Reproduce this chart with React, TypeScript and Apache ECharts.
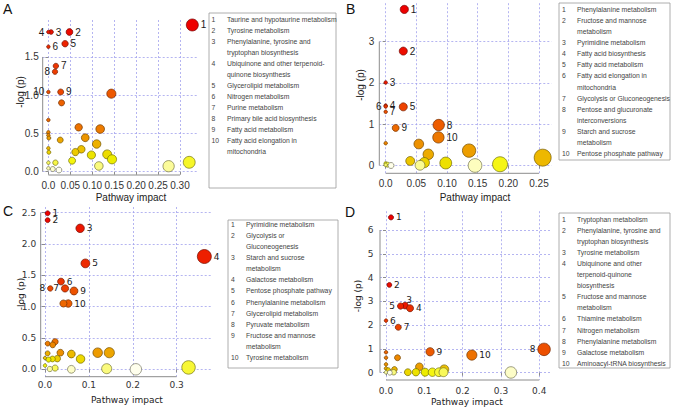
import React, { useEffect, useRef } from "react";
import * as echarts from "echarts";

// ---------------- Panel A data ----------------
const aImpact = [0.328, 0.048, 0.006, 0.0, 0.038, 0.0, 0.017, 0.015, 0.028, 0.0, 0.1435, 0.03, 0.0, 0.069, 0.118, 0.084, 0.0, 0.0, 0.001, 0.027, 0.11, 0.075, 0.0615, 0.098, 0.134, 0.145, 0.054, 0.0, 0.001, 0.016, 0.0, 0.115, 0.274, 0.321, 0.0, 0.01, 0.024];
const aLogP = [1.918, 1.826, 1.826, 1.826, 1.673, 1.634, 1.382, 1.307, 1.042, 1.042, 1.02, 0.9, 0.676, 0.58, 0.558, 0.444, 0.515, 0.475, 0.44, 0.414, 0.362, 0.293, 0.257, 0.218, 0.227, 0.162, 0.144, 0.306, 0.254, 0.118, 0.118, 0.075, 0.072, 0.123, 0.044, 0.035, 0.022];
const aPathways = ["Taurine and hypotaurine metabolism", "Tyrosine metabolism", "Phenylalanine, tyrosine and\ntryptophan biosynthesis", "Ubiquinone and other terpenoid-\nquinone biosynthesis", "Glycerolipid metabolism", "Nitrogen metabolism", "Purine metabolism", "Primary bile acid biosynthesis", "Fatty acid metabolism", "Fatty acid elongation in\nmitochondria"];
const aXTicks = [0, 0.05, 0.1, 0.15, 0.2, 0.25, 0.3];
const aXTickLabels = ["0.0", "0.05", "0.10", "0.15", "0.20", "0.25", "0.30"];
const aYTicks = [0, 0.5, 1, 1.5];
const aYTickLabels = ["0.0", "0.5", "1.0", "1.5"];

// ---------------- Panel B data ----------------
const bImpact = [0.0304, 0.0287, 0.0, 0.0, 0.0287, 0.0, 0.0, 0.0865, 0.0163, 0.086, 0.0, 0.054, 0.136, 0.0695, 0.256, 0.04, 0.063, 0.098, 0.0, 0.1865, 0.003, 0.0, 0.056, 0.1457, 0.0087];
const bLogP = [3.78, 2.77, 2.01, 1.45, 1.42, 1.43, 1.3, 0.98, 0.91, 0.68, 0.54, 0.52, 0.36, 0.27, 0.19, 0.11, 0.07, 0.06, 0.05, 0.03, 0.02, 0.015, 0.005, 0.0, 0.0];
const bPathways = ["Phenylalanine metabolism", "Fructose and mannose\nmetabolism", "Pyrimidine metabolism", "Fatty acid biosynthesis", "Fatty acid metabolism", "Fatty acid elongation in\nmitochondria", "Glycolysis or Gluconeogenesis", "Pentose and glucuronate\ninterconversions", "Starch and sucrose\nmetabolism", "Pentose phosphate pathway"];
const bXTicks = [0, 0.05, 0.1, 0.15, 0.2, 0.25];
const bXTickLabels = ["0.0", "0.05", "0.10", "0.15", "0.20", "0.25"];
const bYTicks = [0, 1, 2, 3];
const bYTickLabels = ["0", "1", "2", "3"];

// ---------------- Panel C data ----------------
const cImpact = [0.006, 0.006, 0.08, 0.363, 0.092, 0.0364, 0.0456, 0.012, 0.066, 0.053, 0.042, 0.023, 0.006, 0.0175, 0.035, 0.12, 0.1465, 0.006, 0.06, 0.0, 0.081, 0.028, 0.017, 0.008, 0.0, 0.327, 0.023, 0.1405, 0.011, 0.06, 0.207];
const cLogP = [2.49, 2.38, 2.25, 1.8, 1.69, 1.4, 1.29, 1.29, 1.25, 1.05, 1.05, 0.44, 0.41, 0.39, 0.265, 0.265, 0.265, 0.255, 0.244, 0.18, 0.165, 0.17, 0.165, 0.155, 0.06, 0.03, 0.02, 0.01, 0.005, 0.0, 0.0];
const cPathways = ["Pyrimidine metabolism", "Glycolysis or\nGluconeogenesis", "Starch and sucrose\nmetabolism", "Galactose metabolism", "Pentose phosphate pathway", "Phenylalanine metabolism", "Glycerolipid metabolism", "Pyruvate metabolism", "Fructose and mannose\nmetabolism", "Tyrosine metabolism"];
const cXTicks = [0, 0.1, 0.2, 0.3];
const cXTickLabels = ["0.0", "0.1", "0.2", "0.3"];
const cYTicks = [0, 0.5, 1, 1.5, 2, 2.5];
const cYTickLabels = ["0.0", "0.5", "1.0", "1.5", "2.0", "2.5"];

// ---------------- Panel D data ----------------
const dImpact = [0.013, 0.0087, 0.0496, 0.0627, 0.038, 0.0, 0.032, 0.4125, 0.115, 0.224, 0.0, 0.0, 0.03, 0.0, 0.087, 0.0, 0.022, 0.152, 0.006, 0.057, 0.078, 0.102, 0.121, 0.138, 0.15, 0.02, 0.0, 0.326, 0.01];
const dLogP = [6.53, 3.69, 2.82, 2.71, 2.8, 2.19, 1.91, 0.98, 0.88, 0.74, 0.86, 0.63, 0.63, 0.35, 0.25, 0.18, 0.14, 0.14, 0.11, 0.02, 0.02, 0.02, 0.02, 0.02, 0.02, 0.018, 0.015, 0.01, 0.0];
const dPathways = ["Tryptophan metabolism", "Phenylalanine, tyrosine and\ntryptophan biosynthesis", "Tyrosine metabolism", "Ubiquinone and other\nterpenoid-quinone\nbiosynthesis", "Fructose and mannose\nmetabolism", "Thiamine metabolism", "Nitrogen metabolism", "Phenylalanine metabolism", "Galactose metabolism", "Aminoacyl-tRNA biosynthesis"];
const dXTicks = [0, 0.1, 0.2, 0.3, 0.4];
const dXTickLabels = ["0.0", "0.1", "0.2", "0.3", "0.4"];
const dYTicks = [0, 1, 2, 3, 4, 5, 6];
const dYTickLabels = ["0", "1", "2", "3", "4", "5", "6"];

// ---------------- styling / layout ----------------
const FONT_AB = "'Liberation Sans', Arial, Helvetica, sans-serif";
const FONT_CD = "'DejaVu Sans', Verdana, sans-serif";
const AXIS_COLOR = "#8c8c8c";
const TICK_TEXT = "#333333";
const GRID_LINE = { color: "#a2a2ee", type: [2, 2] as number[], width: 0.8 };

const PANELS = [
  {
    impact: aImpact, logp: aLogP, pathways: aPathways,
    xTicks: aXTicks, xTickLabels: aXTickLabels, yTicks: aYTicks, yTickLabels: aYTickLabels,
    labelLeft: [4, 8, 10], labelTop: [] as number[],
    grid: { left: 42.7, top: 20, width: 155.3, height: 155 }, xRange: [-0.013, 0.341], yRange: [-0.043, 1.983],
    dMin: 3.5, dMax: 12, font: FONT_AB, fs: 10, xMargin: 5, yMargin: 4,
    letter: { t: "A", x: 3, y: 9 }, ylab: { x: 20.5, y: 92 }, xlab: { x: 131, y: 197 },
    box: { x: 209, y: 13, w: 127, h: 175 }, numX: 211.5, nameX: 227, row0: 19, rowH: 11.06,
  },
  {
    impact: bImpact, logp: bLogP, pathways: bPathways,
    xTicks: bXTicks, xTickLabels: bXTickLabels, yTicks: bYTicks, yTickLabels: bYTickLabels,
    labelLeft: [6], labelTop: [] as number[],
    grid: { left: 379.3, top: 3.2, width: 172.2, height: 170.1 }, xRange: [-0.0104, 0.2704], yRange: [-0.189, 3.93],
    dMin: 3.5, dMax: 17, font: FONT_AB, fs: 10, xMargin: 5, yMargin: 5,
    letter: { t: "B", x: 346, y: 9 }, ylab: { x: 360, y: 85 }, xlab: { x: 475, y: 197 },
    box: { x: 559, y: 3, w: 111, h: 157 }, numX: 562, nameX: 577, row0: 9.3, rowH: 11.1,
  },
  {
    impact: cImpact, logp: cLogP, pathways: cPathways,
    xTicks: cXTicks, xTickLabels: cXTickLabels, yTicks: cYTicks, yTickLabels: cYTickLabels,
    labelLeft: [7, 8], labelTop: [] as number[],
    grid: { left: 40.7, top: 207, width: 170, height: 169.7 }, xRange: [-0.0098, 0.3775], yRange: [-0.118, 2.59],
    dMin: 3.5, dMax: 14, font: FONT_CD, fs: 9, xMargin: 4, yMargin: 4.5,
    letter: { t: "C", x: 3, y: 211 }, ylab: { x: 20.5, y: 294 }, xlab: { x: 127, y: 400 },
    box: { x: 228, y: 220, w: 110, h: 148 }, numX: 231, nameX: 246, row0: 224.3, rowH: 11.1,
  },
  {
    impact: dImpact, logp: dLogP, pathways: dPathways,
    xTicks: dXTicks, xTickLabels: dXTickLabels, yTicks: dYTicks, yTickLabels: dYTickLabels,
    labelLeft: [5, 8], labelTop: [3],
    grid: { left: 380, top: 211.2, width: 170, height: 168.8 }, xRange: [-0.0157, 0.428], yRange: [-0.307, 6.79],
    dMin: 3.5, dMax: 12.5, font: FONT_CD, fs: 9, xMargin: 6.5, yMargin: 6.5,
    letter: { t: "D", x: 345, y: 212 }, ylab: { x: 358, y: 296 }, xlab: { x: 467, y: 402 },
    box: { x: 559, y: 213, w: 111, h: 155 }, numX: 562, nameX: 577, row0: 219, rowH: 11.1,
  },
];

// R-like heat.colors ranking (red -> yellow -> white)
function hsv(h: number, s: number, v: number) {
  const i = Math.floor(h * 6);
  const f = h * 6 - i;
  const p = v * (1 - s), q = v * (1 - f * s), t = v * (1 - (1 - f) * s);
  let r = v, g = t, b = p;
  switch (((i % 6) + 6) % 6) {
    case 0: r = v; g = t; b = p; break;
    case 1: r = q; g = v; b = p; break;
    case 2: r = p; g = v; b = t; break;
    case 3: r = p; g = q; b = v; break;
    case 4: r = t; g = p; b = v; break;
    default: r = v; g = p; b = q;
  }
  return `rgb(${Math.round(r * 255)},${Math.round(g * 255)},${Math.round(b * 255)})`;
}

function heatPalette(n: number) {
  const j = Math.floor(n / 4);
  const i = n - j;
  const out: { fill: string; border: string }[] = [];
  for (let k = 0; k < i; k++) {
    const h = i > 1 ? (k / (i - 1)) / 6 : 0;
    out.push({ fill: hsv(h, 1, 0.93), border: hsv(h, 1, 0.45) });
  }
  const s0 = 1 - 1 / (2 * j), s1 = 1 / (2 * j);
  for (let k = 0; k < j; k++) {
    const s = j > 1 ? s0 + (k * (s1 - s0)) / (j - 1) : s0;
    out.push({ fill: hsv(1 / 6, s, 0.96 + 0.04 * (k / Math.max(1, j - 1))), border: hsv(1 / 6, Math.min(1, s * 0.9 + 0.1), 0.45) });
  }
  return out;
}

function rankColors(ys: number[]) {
  const order = ys.map((_, i) => i).sort((a, b) => ys[b] - ys[a]);
  const pal = heatPalette(ys.length);
  const res: { fill: string; border: string }[] = [];
  order.forEach((idx, r) => { res[idx] = pal[r]; });
  return res;
}

function buildOption() {
  const grids: any[] = [], xAxes: any[] = [], yAxes: any[] = [], series: any[] = [], graphics: any[] = [];
  PANELS.forEach((p, gi) => {
    const fmt = (ticks: number[], labels: string[]) => (v: number) => {
      const k = ticks.findIndex((t) => Math.abs(t - v) < 1e-9);
      return k >= 0 ? labels[k] : "";
    };
    grids.push({ left: p.grid.left, top: p.grid.top, width: p.grid.width, height: p.grid.height, containLabel: false, outerBoundsMode: "none" });
    xAxes.push({
      type: "value", gridIndex: gi, min: p.xRange[0], max: p.xRange[1],
      axisLine: { show: false },
      axisTick: { show: true, customValues: p.xTicks, length: 3, lineStyle: { color: AXIS_COLOR, width: 1 } },
      axisLabel: { show: true, customValues: p.xTicks, formatter: fmt(p.xTicks, p.xTickLabels), margin: p.xMargin, fontSize: p.fs, fontFamily: p.font, color: TICK_TEXT, hideOverlap: false },
      splitLine: { show: true, lineStyle: GRID_LINE },
    });
    yAxes.push({
      type: "value", gridIndex: gi, min: p.yRange[0], max: p.yRange[1],
      axisLine: { show: false },
      axisTick: { show: true, customValues: p.yTicks, length: 3, lineStyle: { color: AXIS_COLOR, width: 1 } },
      axisLabel: { show: true, customValues: p.yTicks, formatter: fmt(p.yTicks, p.yTickLabels), margin: p.yMargin, fontSize: p.fs, fontFamily: p.font, color: TICK_TEXT, hideOverlap: false },
      splitLine: { show: true, lineStyle: GRID_LINE },
    });

    const xMax = Math.max(...p.impact);
    const cols = rankColors(p.logp);
    const data = p.impact.map((x, i) => {
      const tag = i < p.pathways.length ? i + 1 : 0;
      const item: any = {
        value: [x, p.logp[i], tag],
        itemStyle: { color: cols[i].fill, borderColor: cols[i].border, borderWidth: 0.7, opacity: 1 },
      };
      if (tag) {
        const left = p.labelLeft.includes(tag);
        const top = p.labelTop.includes(tag);
        item.label = {
          show: true, formatter: String(tag),
          position: top ? "top" : left ? "left" : "right",
          distance: top ? 0 : 2,
          offset: top ? [4, 3] : [0, 0],
          fontSize: p.fs, fontFamily: p.font, color: "#1a1a1a",
        };
      }
      return item;
    });
    series.push({
      type: "scatter", xAxisIndex: gi, yAxisIndex: gi, data, clip: false, z: 3,
      symbolSize: (v: number[]) => p.dMin + (p.dMax - p.dMin) * Math.sqrt(Math.max(v[0], 0) / xMax),
      itemStyle: { opacity: 1 },
      label: { show: false },
      emphasis: { disabled: true },
    });
    // R-style axis lines spanning first to last tick, drawn at plot boundary
    const xt = p.xTicks, yt = p.yTicks;
    series.push({
      type: "line", xAxisIndex: gi, yAxisIndex: gi, symbol: "none", silent: true, clip: false, z: 2,
      data: [[xt[0], p.yRange[0]], [xt[xt.length - 1], p.yRange[0]]],
      lineStyle: { color: AXIS_COLOR, width: 1 },
    });
    series.push({
      type: "line", xAxisIndex: gi, yAxisIndex: gi, symbol: "none", silent: true, clip: false, z: 2,
      data: [[p.xRange[0], yt[0]], [p.xRange[0], yt[yt.length - 1]]],
      lineStyle: { color: AXIS_COLOR, width: 1 },
    });

    // panel letter
    graphics.push({
      type: "text", x: p.letter.x, y: p.letter.y,
      style: { text: p.letter.t, font: `14px ${FONT_AB}`, fill: "#111", textAlign: "left", textVerticalAlign: "middle" },
    });
    // axis titles
    graphics.push({
      type: "text", x: p.ylab.x, y: p.ylab.y, rotation: Math.PI / 2,
      style: { text: "-log (p)", font: `${p.fs}px ${p.font}`, fill: "#222", textAlign: "center", textVerticalAlign: "middle" },
    });
    graphics.push({
      type: "text", x: p.xlab.x, y: p.xlab.y,
      style: { text: "Pathway impact", font: `${p.fs}px ${p.font}`, fill: "#222", textAlign: "center", textVerticalAlign: "middle" },
    });
    // legend box
    graphics.push({
      type: "rect", shape: { x: p.box.x, y: p.box.y, width: p.box.w, height: p.box.h },
      style: { fill: "#ffffff", stroke: "#9a9a9a", lineWidth: 0.8 },
    });
    let row = 0;
    p.pathways.forEach((name, k) => {
      const lines = name.split("\n");
      graphics.push({
        type: "text", x: p.numX, y: p.row0 + row * p.rowH,
        style: { text: String(k + 1), font: `6.8px ${FONT_AB}`, fill: "#444", textAlign: "left", textVerticalAlign: "middle" },
      });
      lines.forEach((ln) => {
        graphics.push({
          type: "text", x: p.nameX, y: p.row0 + row * p.rowH,
          style: { text: ln, font: `6.8px ${FONT_AB}`, fill: "#444", textAlign: "left", textVerticalAlign: "middle" },
        });
        row++;
      });
    });
  });

  return {
    animation: false,
    backgroundColor: "#ffffff",
    grid: grids,
    xAxis: xAxes,
    yAxis: yAxes,
    series,
    graphic: { elements: graphics },
  };
}

export default function App() {
  const ref = useRef<HTMLDivElement>(null);
  useEffect(() => {
    document.body.style.margin = "0";
    document.body.style.overflow = "hidden";
    const chart = echarts.init(ref.current as HTMLDivElement, null, { renderer: "svg" });
    chart.setOption(buildOption() as any);
    return () => chart.dispose();
  }, []);
  return <div ref={ref} style={{ width: 675, height: 410 }} />;
}
